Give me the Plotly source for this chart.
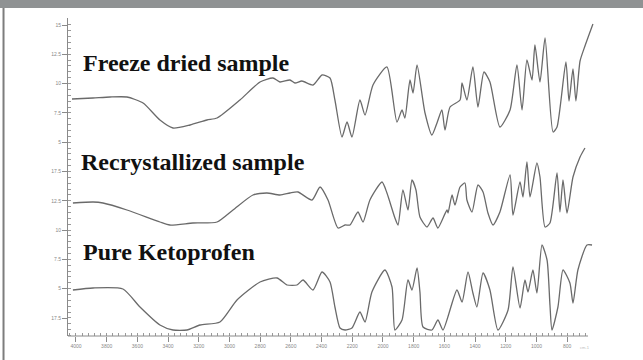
import plotly.graph_objects as go

# Wavenumber (cm-1) and stacked transmittance-like values
freeze_wn = [4026, 3889, 3778, 3668, 3563, 3453, 3368, 3257, 3147, 3081, 2932, 2801, 2717, 2671,
             2606, 2573, 2528, 2456, 2397, 2345, 2313, 2267, 2234, 2202, 2150, 2117, 2065, 1974,
             1909, 1876, 1857, 1824, 1804, 1778, 1726, 1681, 1648, 1616, 1596, 1563, 1498, 1485,
             1453, 1414, 1381, 1342, 1303, 1238, 1172, 1127, 1094, 1062, 1029, 1010, 977, 944,
             892, 866, 808, 788, 762, 743, 716, 684, 632]
freeze_t = [24.2, 24.3, 24.4, 24.4, 23.8, 22.1, 21.3, 21.6, 22.1, 22.3, 24.1, 25.9, 26.3, 25.9,
            26.1, 25.8, 26.0, 25.6, 26.6, 26.3, 24.1, 20.4, 21.9, 20.4, 24.1, 22.6, 25.6, 27.4,
            21.9, 23.1, 22.3, 26.1, 24.8, 27.6, 22.8, 20.6, 21.8, 23.1, 21.1, 23.4, 24.1, 25.8,
            24.1, 27.4, 23.4, 26.9, 25.9, 21.4, 23.1, 27.6, 23.1, 28.1, 26.1, 29.6, 25.9, 30.3,
            20.9, 21.4, 27.9, 24.0, 27.2, 24.0, 28.0, 29.5, 31.7]

recryst_wn = [4020, 3889, 3824, 3668, 3453, 3388, 3238, 3081, 2977, 2847, 2756, 2671, 2606, 2554,
              2462, 2410, 2358, 2293, 2247, 2215, 2163, 2130, 2085, 2006, 1974, 1922, 1902, 1870,
              1837, 1811, 1785, 1759, 1713, 1674, 1642, 1583, 1576, 1550, 1531, 1498, 1466, 1453,
              1420, 1381, 1348, 1316, 1283, 1238, 1172, 1153, 1107, 1088, 1062, 1042, 997, 977,
              944, 912, 866, 847, 827, 801, 762, 716, 684]
recryst_t = [13.8, 13.9, 13.8, 13.1, 11.9, 11.6, 11.8, 11.9, 13.1, 14.6, 14.8, 14.6, 14.8, 14.9,
             14.1, 15.4, 14.1, 11.3, 11.6, 11.6, 12.9, 11.9, 14.1, 15.9, 14.8, 12.3, 11.6, 15.1,
             13.1, 16.1, 15.1, 12.4, 11.4, 12.3, 11.3, 13.1, 12.8, 14.6, 13.6, 15.4, 15.8, 14.1,
             12.9, 15.6, 14.9, 12.8, 11.6, 12.9, 16.6, 12.6, 15.9, 14.4, 17.9, 14.4, 17.8, 16.4,
             11.4, 11.8, 16.8, 12.9, 16.1, 12.8, 16.4, 18.4, 19.3]

pure_wn = [4020, 3889, 3694, 3583, 3453, 3368, 3277, 3192, 3062, 2951, 2801, 2690, 2625, 2560,
           2521, 2456, 2397, 2345, 2313, 2280, 2247, 2202, 2150, 2117, 2072, 1987, 1941, 1922,
           1876, 1837, 1811, 1778, 1759, 1739, 1681, 1642, 1609, 1518, 1485, 1446, 1414, 1388,
           1348, 1303, 1251, 1185, 1153, 1107, 1075, 1055, 1023, 997, 964, 931, 912, 899, 860,
           827, 782, 762, 730, 671, 638]
pure_t = [5.1, 5.3, 5.2, 3.4, 1.6, 1.1, 1.1, 1.6, 1.9, 4.1, 5.9, 6.3, 5.6, 5.6,
          6.1, 5.1, 6.9, 5.9, 3.4, 1.3, 1.1, 1.3, 2.9, 1.9, 4.9, 7.1, 5.4, 1.1,
          2.1, 6.1, 5.1, 7.3, 4.9, 1.4, 1.1, 2.1, 1.1, 5.1, 3.9, 6.9, 4.8, 3.4,
          6.8, 5.1, 1.1, 3.1, 7.4, 3.3, 6.1, 4.9, 7.1, 4.8, 9.6, 8.1, 3.6, 1.1, 3.4,
          7.1, 5.8, 3.8, 7.1, 9.6, 9.6]

sample_names = ["Freeze dried sample", "Recrystallized sample", "Pure Ketoprofen"]

x_ticks = list(range(4000, 799, -200))
x_tick_text = [str(v) for v in x_ticks]
y_ticks = [2.3, 5.23, 8.16, 11.09, 14.02, 16.95, 19.88, 22.81, 25.74, 28.67, 31.6]
y_tick_text = ["17.5", "5", "7.5", "10", "12.5", "17.5", "5", "7.5", "10", "12.5", "15"]

fig = go.Figure()
for wn, t in [(freeze_wn, freeze_t), (recryst_wn, recryst_t), (pure_wn, pure_t)]:
    fig.add_trace(go.Scatter(x=wn, y=t, mode="lines",
                             line=dict(color="#6a6a6a", width=1.3, shape="spline", smoothing=0.6),
                             hoverinfo="skip"))

label_pos = [(0.024, 0.858), (0.020, 0.546), (0.024, 0.264)]
for name, (ax, ay) in zip(sample_names, label_pos):
    fig.add_annotation(text=name, xref="paper", yref="paper", x=ax, y=ay,
                       xanchor="left", yanchor="middle", showarrow=False,
                       font=dict(family="Liberation Serif", size=24, color="#111111", weight="bold"))

fig.add_annotation(text="cm-1", xref="paper", yref="paper", x=0.985, y=-0.05,
                   showarrow=False, font=dict(family="Arial", size=4, color="#bbbbbb"))

# x-axis line (does not span the full plot width)
fig.add_shape(type="line", xref="x", yref="paper", x0=4052, x1=664, y0=0, y1=0,
              line=dict(color="#8a8a8a", width=1))
# top grey caption band and left frame line
fig.add_shape(type="rect", xref="paper", yref="paper", x0=-0.14, x1=1.1, y0=1.0314, y1=1.07,
              fillcolor="#8f9293", line=dict(width=0), layer="above")
fig.add_shape(type="line", xref="paper", yref="paper", x0=-0.1212, x1=-0.1212, y0=1.0314, y1=-0.08,
              line=dict(color="#7d7d7d", width=2))

minor_x = [v for v in range(4040, 660, -40)]
minor_y = [0.546 + 0.586 * k for k in range(54)]

fig.update_layout(
    width=643, height=360,
    margin=dict(l=68, r=43, t=18, b=24),
    paper_bgcolor="white", plot_bgcolor="white",
    showlegend=False,
    xaxis=dict(range=[4052, 586], showgrid=False, zeroline=False, showline=False,
               tickmode="array", tickvals=x_ticks, ticktext=x_tick_text,
               ticks="outside", ticklen=5, tickcolor="#8a8a8a",
               tickfont=dict(family="Arial", size=5, color="#888888"),
               minor=dict(tickmode="array", tickvals=minor_x, ticks="inside", ticklen=3,
                          tickcolor="#999999", showgrid=False)),
    yaxis=dict(range=[0.5, 32.3], showgrid=False, zeroline=False, showline=True,
               linecolor="#8a8a8a", linewidth=1,
               tickmode="array", tickvals=y_ticks, ticktext=y_tick_text,
               ticks="outside", ticklen=5, tickcolor="#8a8a8a",
               tickfont=dict(family="Arial", size=5, color="#888888"),
               minor=dict(tickmode="array", tickvals=minor_y, ticks="inside", ticklen=3,
                          tickcolor="#999999", showgrid=False)),
)

fig.write_html("out.html", config={"displayModeBar": False},
               post_script="document.body.style.margin='0';")
